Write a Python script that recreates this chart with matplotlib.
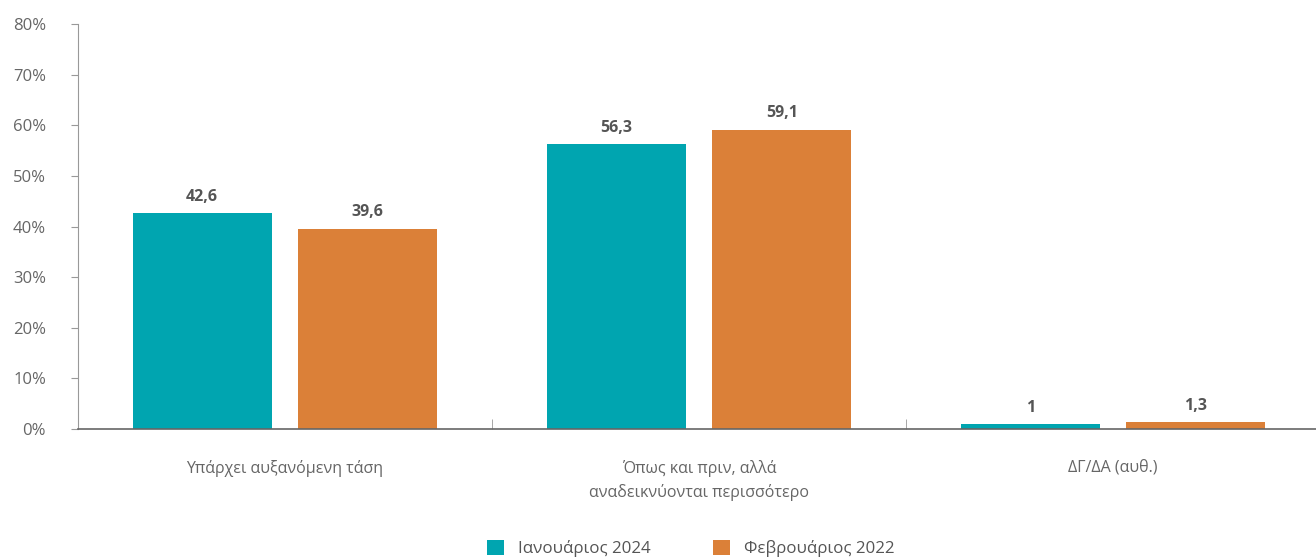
import numpy as np
import matplotlib.pyplot as plt
from matplotlib.ticker import FuncFormatter

plt.rcParams['font.family'] = ['Open Sans', 'Noto Sans', 'DejaVu Sans']

categories = ["Υπάρχει αυξανόμενη τάση",
              "Όπως και πριν, αλλά\nαναδεικνύονται περισσότερο",
              "ΔΓ/ΔΑ (αυθ.)"]
series_names = ["Ιανουάριος 2024", "Φεβρουάριος 2022"]
jan_2024 = [42.6, 56.3, 1.0]
feb_2022 = [39.6, 59.1, 1.3]
colors = ["#00A5B0", "#DB8038"]

fig = plt.figure(figsize=(13.16, 5.6), dpi=100)
ax = fig.add_axes([0.0593, 0.2339, 0.9438, 0.7232])

x = np.arange(len(categories))
w = 0.336
offset = 0.2
for vals, off, col, name in zip([jan_2024, feb_2022], [-offset, offset], colors, series_names):
    bars = ax.bar(x + off, vals, width=w, color=col, label=name)
    for b, v in zip(bars, vals):
        txt = f"{v:g}".replace(".", ",")
        ax.annotate(txt, (b.get_x() + b.get_width() / 2, v), xytext=(0, 6),
                    textcoords="offset points", ha="center", va="bottom",
                    fontsize=11.5, fontweight="bold", color="#555555")

ax.set_xlim(-0.5, 2.5)
ax.set_ylim(0, 80)
ax.set_yticks(range(0, 81, 10))
ax.yaxis.set_major_formatter(FuncFormatter(lambda v, p: f"{v:.0f}%"))
ax.tick_params(axis="y", length=5, color="#999999", labelcolor="#666666",
               labelsize=12, pad=18)

ax.set_xticks(x)
ax.set_xticklabels(categories, linespacing=1.6)
ax.set_xticks([0.5, 1.5], minor=True)
ax.tick_params(axis="x", which="major", length=0, pad=22, labelsize=11.5,
               labelcolor="#666666")
ax.tick_params(axis="x", which="minor", direction="in", length=7, color="#999999")

for s in ["top", "right"]:
    ax.spines[s].set_visible(False)
ax.spines["left"].set_color("#999999")
ax.spines["bottom"].set_color("#666666")
ax.spines["bottom"].set_linewidth(1.2)

fig.legend(loc="lower center", bbox_to_anchor=(0.525, -0.022), ncol=2,
           frameon=False, fontsize=12.2, handlelength=1.0, handleheight=1.0,
           handletextpad=0.8, columnspacing=3.7, labelcolor="#555555")

fig.savefig("out.png", dpi=100)
